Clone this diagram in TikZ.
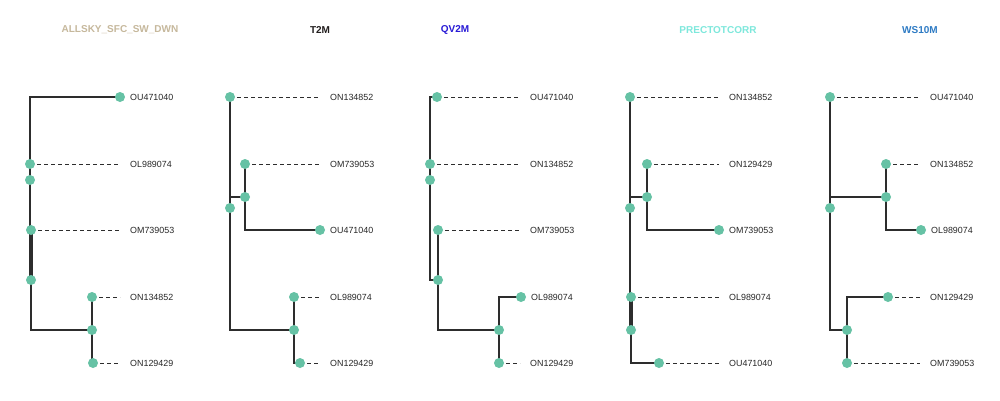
\documentclass[tikz,border=0pt]{standalone}
\usepackage{fontspec}
\setmainfont{Liberation Sans}
\usetikzlibrary{positioning}
\definecolor{dotgreen}{RGB}{102,194,165}
\definecolor{linedark}{RGB}{45,45,45}
\definecolor{labgray}{RGB}{40,40,40}
\definecolor{tsky}{RGB}{198,184,156}
\definecolor{ttm}{RGB}{34,30,30}
\definecolor{tqv}{RGB}{40,26,214}
\definecolor{tprec}{RGB}{126,232,220}
\definecolor{tws}{RGB}{46,123,196}
\tikzset{
  branch/.style={draw=linedark, line width=2pt},
  leafline/.style={draw=linedark, line width=1pt, dash pattern=on 4pt off 3pt},
  tipdot/.style={circle, fill=dotgreen, inner sep=0pt, minimum size=10pt},
  leaflab/.style={anchor=west, inner xsep=10pt, inner ysep=0pt, text=labgray, font=\fontsize{8.9}{10}\selectfont},
  paneltitle/.style={font=\fontsize{10}{12}\selectfont\bfseries}
}

\begin{document}
\begin{tikzpicture}[x=1pt, y=-1pt]
    \useasboundingbox[fill=white] (0,0) rectangle (1000,400);

    % Titles
    \node[paneltitle, text=tsky]  (t1) at (120,30) {ALLSKY\_SFC\_SW\_DWN};
    \node[paneltitle, text=ttm]   (t2) at (320,30) {T2M};
    \node[paneltitle, text=tqv]   (t3) at (455,30) {QV2M};
    \node[paneltitle, text=tprec] (t4) at (718,30) {PRECTOTCORR};
    \node[paneltitle, text=tws]   (t5) at (920,30) {WS10M};

    % Tree points
    \foreach \n/\x/\y in {a1/120/97, b1/30/164, i1/30/180, c1/31/230, i2/31/280, i3/92/330, d1/92/297, e1/93/363,
                          a2/230/97, r2/230/208, j2/245/197, b2/245/164, c2/320/230, k2/294/330, d2/294/297, e2/300/363,
                          a3/437/97, b3/430/164, i3a/430/180, c3/438/230, i3b/438/280, i3c/499/330, d3/521/297, e3/499/363,
                          a4/630/97, r4/630/208, j4/647/197, b4/647/164, c4/719/230, d4/631/297, k4/631/330, e4/659/363,
                          a5/830/97, r5/830/208, j5/886/197, b5/886/164, c5/921/230, k5/847/330, d5/888/297, e5/847/363}
        \coordinate (\n) at (\x,\y);

    % Labels
    \foreach \n/\x/\y/\t in {a1/120/97/OU471040, b1/120/164/OL989074, c1/120/230/OM739053, d1/120/297/ON134852, e1/120/363/ON129429,
                             a2/320/97/ON134852, b2/320/164/OM739053, c2/320/230/OU471040, d2/320/297/OL989074, e2/320/363/ON129429,
                             a3/520/97/OU471040, b3/520/164/ON134852, c3/520/230/OM739053, d3/521/297/OL989074, e3/520/363/ON129429,
                             a4/719/97/ON134852, b4/719/164/ON129429, c4/719/230/OM739053, d4/719/297/OL989074, e4/719/363/OU471040,
                             a5/920/97/OU471040, b5/920/164/ON134852, c5/921/230/OL989074, d5/920/297/ON129429, e5/920/363/OM739053}
        \node[leaflab] (l\n) at (\x,\y) {\t};

    % Dashed leaders
    \foreach \n in {b1,c1,d1,e1, a2,b2,d2,e2, a3,b3,c3,e3, a4,b4,d4,e4, a5,b5,d5,e5}
        \draw[leafline] (\n) -- (l\n.west);

    % Branches
    \foreach \u/\v in {i1/a1, i1/b1, i1/i2, i2/c1, i2/i3, i3/d1, i3/e1,
                       r2/a2, r2/j2, j2/b2, j2/c2, r2/k2, k2/d2, k2/e2,
                       i3a/a3, i3a/b3, i3a/i3b, i3b/c3, i3b/i3c, i3c/d3, i3c/e3,
                       r4/a4, r4/j4, j4/b4, j4/c4, r4/d4, d4/k4, k4/e4,
                       r5/a5, r5/j5, j5/b5, j5/c5, r5/k5, k5/d5, k5/e5}
        \draw[branch] (\u) |- (\v);
    \draw[branch, line width=3.2pt] (c1) -- (i2);
    \draw[branch, line width=3.2pt] (d4) -- (k4);

    % Dots
    \foreach \n in {a1,b1,i1,c1,i2,i3,d1,e1, a2,r2,j2,b2,c2,k2,d2,e2,
                    a3,b3,i3a,c3,i3b,i3c,d3,e3, a4,r4,j4,b4,c4,d4,k4,e4,
                    a5,r5,j5,b5,c5,k5,d5,e5}
        \node[tipdot] (dot\n) at (\n) {};
\end{tikzpicture}
\end{document}
